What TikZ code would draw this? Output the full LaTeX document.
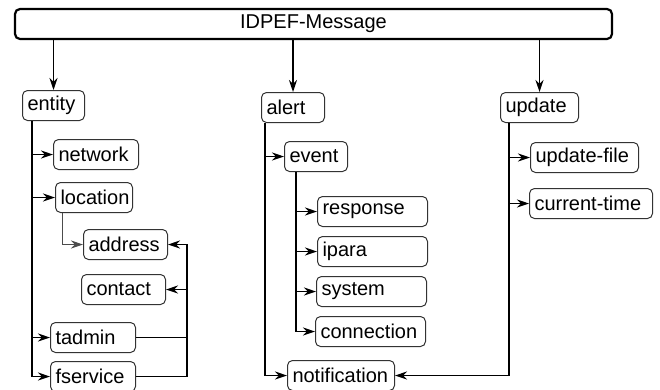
\documentclass[tikz,border=0pt]{standalone}
\usepackage{fontspec}
\setmainfont{Liberation Sans}
\usetikzlibrary{arrows.meta}
\hyphenpenalty=10000
\exhyphenpenalty=10000
\begin{document}
\begin{tikzpicture}[x=1pt,y=-1pt,
  font=\fontsize{20}{24}\selectfont,
  >={Stealth[length=12pt,width=8pt,inset=4pt]},
  link/.style={->,line width=1.5pt},
  box/.style={draw=black!80,line width=1pt,rounded corners=5pt,anchor=north west,
    align=left,inner xsep=5pt,inner ysep=0pt,minimum height=30pt},
  msgbox/.style={draw,line width=2.2pt,rounded corners=5pt,minimum width=597pt,minimum height=30pt}]
\useasboundingbox (0,0) rectangle (660,389);
\node[msgbox] (msg) at (313.5,24) {IDPEF-Message};
\node[box,text width=52pt] (entity) at (22,90) {entity};
\node[box,text width=53pt] (alert) at (261,92) {alert};
\node[box,text width=68pt] (update) at (500,92) {update};
\node[box,text width=75pt] (network) at (53,139) {network};
\node[box,text width=67pt] (location) at (55,182) {location};
\node[box,text width=74pt] (address) at (83,229) {address};
\node[box,text width=74pt] (contact) at (81,274) {contact};
\node[box,text width=75pt] (tadmin) at (50,322) {tadmin};
\node[box,text width=75pt] (fservice) at (50,361) {fservice};
\node[box,text width=53pt] (event) at (284,141) {event};
\node[box,text width=100pt] (response) at (317,196) {response};
\node[box,text width=100pt] (ipara) at (317,236) {ipara};
\node[box,text width=100pt] (system) at (316,276) {system};
\node[box,text width=100pt] (connection) at (315,316) {connection};
\node[box,text width=97pt] (notification) at (287,360) {notification};
\node[box,text width=98pt] (updatefile) at (530,142) {update-file};
\node[box,text width=113pt] (currenttime) at (529,188) {current-time};
\foreach \n in {entity,alert,update}
  \draw[link] (msg.south -| \n.north) -- (\n.north);
\foreach \n in {network,location,tadmin,fservice}
  \draw[link] ([xshift=10pt]entity.south west) |- (\n.west);
\draw[->,line width=1pt,black!70] ([xshift=7pt]location.south west) |- (address.west);
\coordinate (bus) at ([xshift=19pt]address.east);
\draw[link] (fservice.east) -| (bus) -- (address.east);
\draw[line width=1.5pt] (tadmin.east) -- (tadmin.east -| bus);
\draw[link] (contact.east -| bus) -- (contact.east);
\foreach \n in {event,notification}
  \draw[link] ([xshift=4pt]alert.south west) |- (\n.west);
\foreach \n in {response,ipara,system,connection}
  \draw[link] ([xshift=12pt]event.south west) |- (\n.west);
\foreach \n in {updatefile,currenttime}
  \draw[link] ([xshift=9pt]update.south west) |- (\n.west);
\draw[link] ([xshift=9pt]update.south west) |- (notification.east);
\end{tikzpicture}
\end{document}
